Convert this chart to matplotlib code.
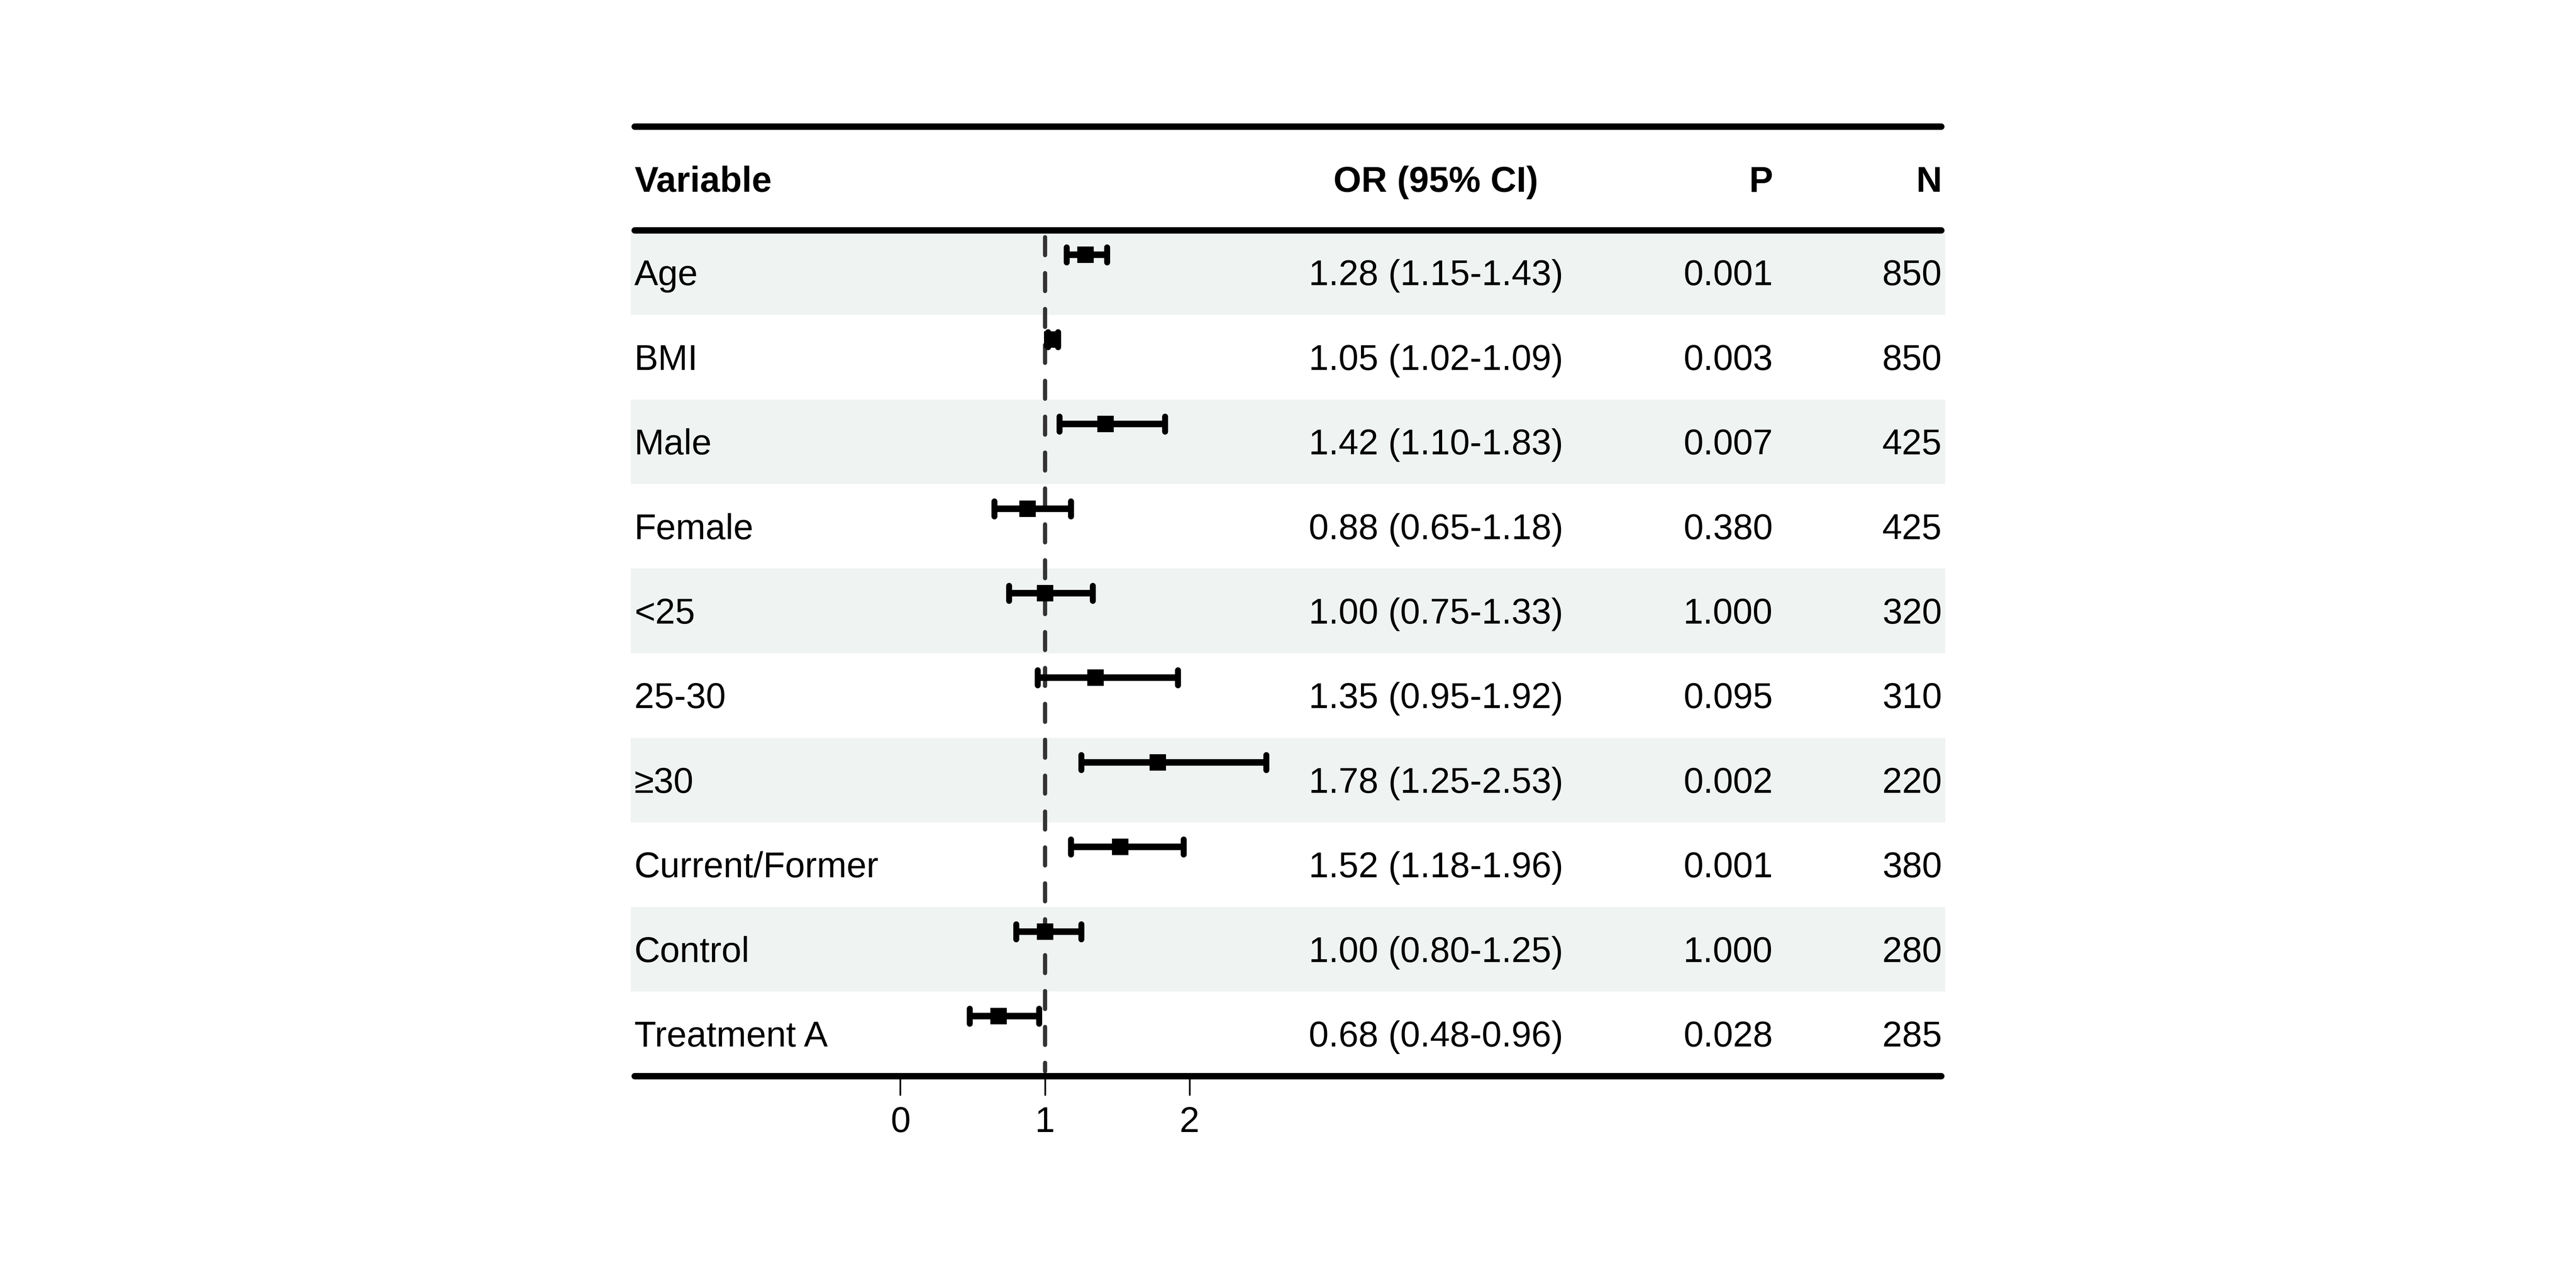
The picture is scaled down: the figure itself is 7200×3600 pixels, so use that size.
import numpy as np
import matplotlib.pyplot as plt
from matplotlib.markers import MarkerStyle

variables = ["Age", "BMI", "Male", "Female", "<25", "25-30", "\u226530",
             "Current/Former", "Control", "Treatment A"]
odds = [1.28, 1.05, 1.42, 0.88, 1.00, 1.35, 1.78, 1.52, 1.00, 0.68]
ci_low = [1.15, 1.02, 1.10, 0.65, 0.75, 0.95, 1.25, 1.18, 0.80, 0.48]
ci_high = [1.43, 1.09, 1.83, 1.18, 1.33, 1.92, 2.53, 1.96, 1.25, 0.96]
p_values = ["0.001", "0.003", "0.007", "0.380", "1.000", "0.095", "0.002",
            "0.001", "1.000", "0.028"]
n_values = [850, 850, 425, 425, 320, 310, 220, 380, 280, 285]
x_ticks = [0, 1, 2]

plt.rcParams['font.family'] = ['Liberation Sans', 'DejaVu Sans']
fs = 24

fig = plt.figure(figsize=(24, 12), dpi=300)
ax = fig.add_axes([0.2449, 0.1645, 0.5102, 0.7373])

n_rows = len(variables)
rows = np.arange(n_rows)
ax.set_xlim(-1.864, 7.227)
ax.set_ylim(n_rows - 0.5, -1.728)

# alternating row shading
for i in rows:
    if i % 2 == 0:
        ax.axhspan(i - 0.5, i + 0.5, color='#EFF3F2', lw=0, zorder=0)

# reference line at OR = 1
ax.plot([1, 1], [-0.42, n_rows - 0.56], color='#333333', lw=2.8,
        linestyle=(0, (4.3, 4.3)), dash_capstyle='round', zorder=1)

# confidence intervals and point estimates
ypt = rows - 0.21
ax.hlines(ypt, ci_low, ci_high, color='black', lw=4.4, zorder=3)
cap = MarkerStyle('|', capstyle='round')
ax.plot(ci_low, ypt, ls='none', marker=cap, ms=10, mew=4, color='black', zorder=3)
ax.plot(ci_high, ypt, ls='none', marker=cap, ms=10, mew=4, color='black', zorder=3)
ax.plot(odds, ypt, ls='none', marker='s', ms=11, color='black', mew=0, zorder=4)

# rules
for yy in [-1.728, -0.5, n_rows - 0.5]:
    ax.plot([0.003, 0.997], [yy, yy], transform=ax.get_yaxis_transform(), color='black',
            lw=4.3, solid_capstyle='round', clip_on=False, zorder=5)

# header
x_var, x_or, x_p, x_n = -1.84, 3.705, 6.034, 7.205
hy = -0.958
ax.text(x_var, hy, "Variable", fontsize=fs, fontweight='bold', va='baseline', ha='left')
ax.text(x_or, hy, "OR (95% CI)", fontsize=fs, fontweight='bold', va='baseline', ha='center')
ax.text(x_p, hy, "P", fontsize=fs, fontweight='bold', va='baseline', ha='right')
ax.text(x_n, hy, "N", fontsize=fs, fontweight='bold', va='baseline', ha='right')

# table body
for i in rows:
    by = i + 0.15
    ax.text(x_var, by, variables[i], fontsize=fs, va='baseline', ha='left')
    ax.text(x_or, by, f"{odds[i]:.2f} ({ci_low[i]:.2f}-{ci_high[i]:.2f})",
            fontsize=fs, va='baseline', ha='center')
    ax.text(x_p, by, p_values[i], fontsize=fs, va='baseline', ha='right')
    ax.text(x_n, by, str(n_values[i]), fontsize=fs, va='baseline', ha='right')

for s in ax.spines.values():
    s.set_visible(False)
ax.set_yticks([])
ax.set_xticks(x_ticks)
ax.set_xticklabels([str(t) for t in x_ticks])
ax.tick_params(axis='x', length=13, width=1.1, pad=7, labelsize=fs, color='black')

fig.savefig("out.png", dpi=300, facecolor='white')
